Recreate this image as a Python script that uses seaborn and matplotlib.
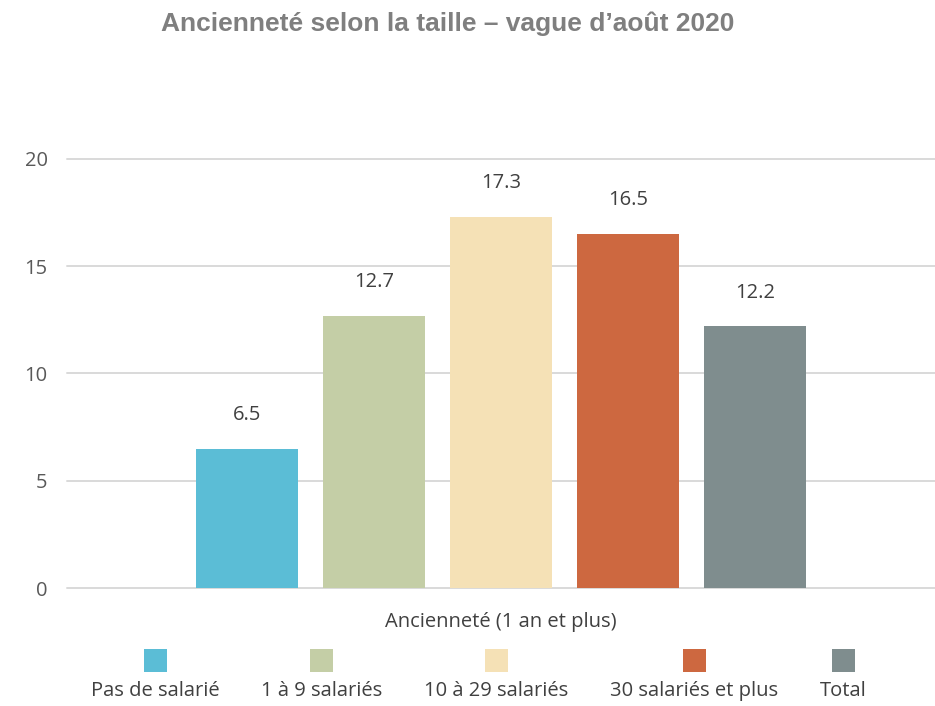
import pandas as pd
import numpy as np
import matplotlib.pyplot as plt
import seaborn as sns
from matplotlib.patches import Rectangle
from matplotlib.offsetbox import AnchoredOffsetbox, DrawingArea, HPacker, TextArea, VPacker

# -------------------
# Data
category = ["Ancienneté (1 an et plus)"]
groups = ["Pas de salarié", "1 à 9 salariés", "10 à 29 salariés", "30 salariés et plus", "Total"]
values = [6.5, 12.7, 17.3, 16.5, 12.2]
colors = ["#5bbdd6", "#c4cea6", "#f5e1b6", "#cd6840", "#7f8d8e"]

df = pd.DataFrame({"cat": category * len(groups), "groupe": groups, "val": values})

# -------------------
sns.set_style("white")
plt.rcParams["font.family"] = ["Open Sans", "DejaVu Sans"]

fig = plt.figure(figsize=(9.35, 7.06), dpi=100)
ax = fig.add_axes([0.0717, 0.167, 0.9283, 0.608])

sns.barplot(data=df, x="cat", y="val", hue="groupe", hue_order=groups,
            palette=colors, saturation=1, width=0.8, gap=0.2, linewidth=0,
            legend=False, ax=ax)

for cont in ax.containers:
    ax.bar_label(cont, fmt="%.1f", padding=17, fontsize=14.5, color="#404040")

ax.set_ylim(0, 20)
ax.set_xlim(-0.547, 0.547)
ax.set_yticks([0, 5, 10, 15, 20])
ax.yaxis.grid(True, color="#d9d9d9", linewidth=1.4)
ax.set_axisbelow(True)
for s in ax.spines.values():
    s.set_visible(False)
ax.tick_params(axis="y", length=0, pad=14, labelsize=14.5, labelcolor="#595959")
ax.tick_params(axis="x", length=0, pad=17, labelsize=14.5, labelcolor="#404040")
ax.set_xlabel("")
ax.set_ylabel("")
for gl in ax.get_ygridlines():
    gl.set_clip_on(False)

# legend: square above each label
sq = 16.5
items = []
for g, c in zip(groups, colors):
    da = DrawingArea(sq, sq, 0, 0)
    da.add_artist(Rectangle((0, 0), sq, sq, facecolor=c, edgecolor="none"))
    ta = TextArea(g, textprops=dict(fontsize=14.5, color="#404040"))
    items.append(VPacker(children=[da, ta], align="center", pad=0, sep=7))
box = HPacker(children=items, align="center", pad=0, sep=30)
anch = AnchoredOffsetbox(loc="center", child=box, frameon=False,
                         bbox_to_anchor=(0.512, 0.044), bbox_transform=fig.transFigure)
fig.add_artist(anch)

fig.text(0.479, 0.966, "Ancienneté selon la taille – vague d’août 2020",
         ha="center", va="center", fontsize=19, fontweight="bold",
         color="#7f7f7f", family=["Liberation Sans", "DejaVu Sans"])

fig.savefig("out.png", dpi=100)
